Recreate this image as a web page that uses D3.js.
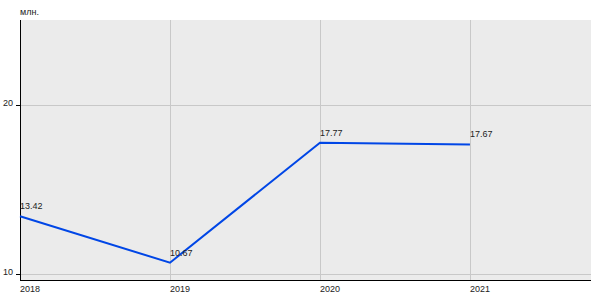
<!DOCTYPE html>
<html>
<head>
<meta charset="utf-8">
<script src="https://cdn.jsdelivr.net/npm/d3@7"></script>
<style>
    body { margin: 0; background: #fff; }
    text { font-family: "Liberation Sans", Arial, sans-serif; font-size: 9px; fill: #222; }
</style>
</head>
<body>
<svg id="chart" width="600" height="300"></svg>
<script>
const years = [2018, 2019, 2020, 2021];
const values = [13.42, 10.67, 17.77, 17.67];
const yTicks = [10, 20];
const unit = "млн.";

const mLeft = 20, mRight = 591, mTop = 20, mBottom = 280;

const x = d3.scaleLinear()
    .domain([2018, 2021.807])
    .range([mLeft, mRight]);

const y = d3.scaleLinear()
    .domain([9.645, 25.03])
    .range([mBottom, mTop]);

const svg = d3.select("#chart");

// plot background
svg.append("rect")
    .attr("x", mLeft)
    .attr("y", mTop)
    .attr("width", mRight - mLeft)
    .attr("height", mBottom - mTop)
    .attr("fill", "#ebebeb");

// grid
svg.selectAll(".vgrid")
    .data(years)
    .join("line")
    .attr("x1", d => Math.round(x(d)) + 0.5)
    .attr("x2", d => Math.round(x(d)) + 0.5)
    .attr("y1", mTop)
    .attr("y2", mBottom)
    .attr("stroke", "#c8c8c8");

svg.selectAll(".hgrid")
    .data(yTicks)
    .join("line")
    .attr("x1", mLeft)
    .attr("x2", mRight)
    .attr("y1", d => Math.round(y(d)) + 0.5)
    .attr("y2", d => Math.round(y(d)) + 0.5)
    .attr("stroke", "#c8c8c8");

// axes lines
svg.append("line")
    .attr("x1", mLeft + 0.5).attr("x2", mLeft + 0.5)
    .attr("y1", mTop).attr("y2", mBottom + 1)
    .attr("stroke", "#000");

svg.append("line")
    .attr("x1", mLeft).attr("x2", mRight)
    .attr("y1", mBottom + 0.5).attr("y2", mBottom + 0.5)
    .attr("stroke", "#000");

// y ticks
svg.selectAll(".ytick")
    .data(yTicks)
    .join("line")
    .attr("x1", mLeft - 4)
    .attr("x2", mLeft)
    .attr("y1", d => Math.round(y(d)) + 0.5)
    .attr("y2", d => Math.round(y(d)) + 0.5)
    .attr("stroke", "#000");

svg.selectAll(".ylabel")
    .data(yTicks)
    .join("text")
    .attr("x", mLeft - 7)
    .attr("y", d => y(d) + 1)
    .attr("text-anchor", "end")
    .text(d => d);

// x labels
svg.selectAll(".xlabel")
    .data(years)
    .join("text")
    .attr("x", d => x(d))
    .attr("y", 292)
    .text(d => d);

svg.append("text")
    .attr("x", mLeft)
    .attr("y", 15)
    .text(unit);

// line
const pts = years.map((d, i) => [d, values[i]]);
svg.append("path")
    .datum(pts)
    .attr("fill", "none")
    .attr("stroke", "#0046e6")
    .attr("stroke-width", 2)
    .attr("d", d3.line().x(d => x(d[0])).y(d => y(d[1])));

svg.selectAll(".vlabel")
    .data(pts)
    .join("text")
    .attr("x", d => x(d[0]))
    .attr("y", d => y(d[1]) - 7)
    .text(d => d[1].toFixed(2));
</script>
</body>
</html>
